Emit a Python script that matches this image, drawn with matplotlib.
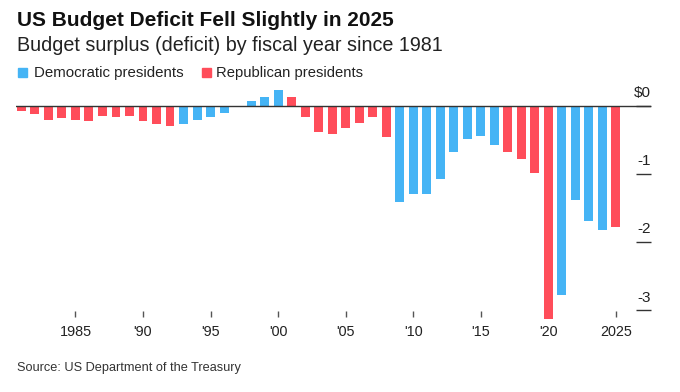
import matplotlib
matplotlib.use("Agg")
from matplotlib import pyplot as plt
from matplotlib.patches import Rectangle

plt.rcParams['font.family'] = ['Liberation Sans', 'DejaVu Sans']

years = list(range(1981, 2026))
# budget surplus (deficit), trillions of dollars
balance = [-0.07, -0.12, -0.20, -0.18, -0.21, -0.22, -0.15, -0.16, -0.15, -0.22,
           -0.27, -0.29, -0.26, -0.20, -0.16, -0.11, -0.02, 0.07, 0.13, 0.24,
           0.13, -0.16, -0.38, -0.41, -0.32, -0.25, -0.16, -0.46, -1.41, -1.29,
           -1.30, -1.08, -0.68, -0.48, -0.44, -0.58, -0.67, -0.78, -0.98, -3.13,
           -2.78, -1.38, -1.69, -1.82, -1.78]
party = ['R'] * 12 + ['D'] * 8 + ['R'] * 8 + ['D'] * 8 + ['R'] * 4 + ['D'] * 4 + ['R']

tick_years = [1985, 1990, 1995, 2000, 2005, 2010, 2015, 2020, 2025]
tick_labels = ['1985', "'90", "'95", "'00", "'05", "'10", "'15", "'20", '2025']
y_ticks = [0, -1, -2, -3]
y_labels = ['$0', '-1', '-2', '-3']

BLUE = '#45b4f5'
RED = '#ff4d5a'
colors = [BLUE if p == 'D' else RED for p in party]

W, H = 680, 392
fig = plt.figure(figsize=(W / 100, H / 100), dpi=100)

# axes placed in pixel terms
left, right, top_px, bottom_px = 16, 651, 85.6, 323.6
ax = fig.add_axes([left / W, 1 - bottom_px / H, (right - left) / W, (bottom_px - top_px) / H])

ax.bar(years, balance, width=0.66, color=colors, zorder=2)
ax.axhline(0, color='#333333', lw=1, zorder=3)

ax.set_xlim(1980.6, 2027.6)
ax.set_ylim(-3.2, 0.3)

for s in ['top', 'left', 'right']:
    ax.spines[s].set_visible(False)
ax.spines['bottom'].set_position(('data', -3.02))
ax.spines['bottom'].set_visible(False)

ax.set_xticks(tick_years)
ax.set_xticklabels(tick_labels, fontsize=10.4, color='#222222')
ax.tick_params(axis='x', direction='out', length=4, width=1, color='#555555', pad=6)

ax.yaxis.tick_right()
ax.set_yticks(y_ticks)
ax.tick_params(axis='y', direction='in', length=11, width=1, color='#333333', labelright=False)
for v, lab in zip(y_ticks, y_labels):
    ax.annotate(lab, xy=(1, v), xycoords=('axes fraction', 'data'), xytext=(0, 9),
                textcoords='offset points', ha='right', va='center', fontsize=11,
                color='#222222')

fig.text(17 / W, 1 - 26 / H, 'US Budget Deficit Fell Slightly in 2025', fontsize=15,
         fontweight='bold', va='baseline', color='#111111')
fig.text(17 / W, 1 - 51 / H, 'Budget surplus (deficit) by fiscal year since 1981', fontsize=14.2,
         va='baseline', color='#222222')

# legend
fig.patches.append(Rectangle((18 / W, 1 - 77 / H), 9 / W, 9 / H, transform=fig.transFigure,
                             color=BLUE, figure=fig))
fig.text(34 / W, 1 - 77 / H, 'Democratic presidents', fontsize=10.8, va='baseline', color='#222222')
fig.patches.append(Rectangle((202 / W, 1 - 77 / H), 9 / W, 9 / H, transform=fig.transFigure,
                             color=RED, figure=fig))
fig.text(216 / W, 1 - 77 / H, 'Republican presidents', fontsize=10.6, va='baseline', color='#222222')

fig.text(17 / W, 1 - 371 / H, 'Source: US Department of the Treasury', fontsize=9.2,
         va='baseline', color='#333333')

fig.savefig('out.png', dpi=100)
